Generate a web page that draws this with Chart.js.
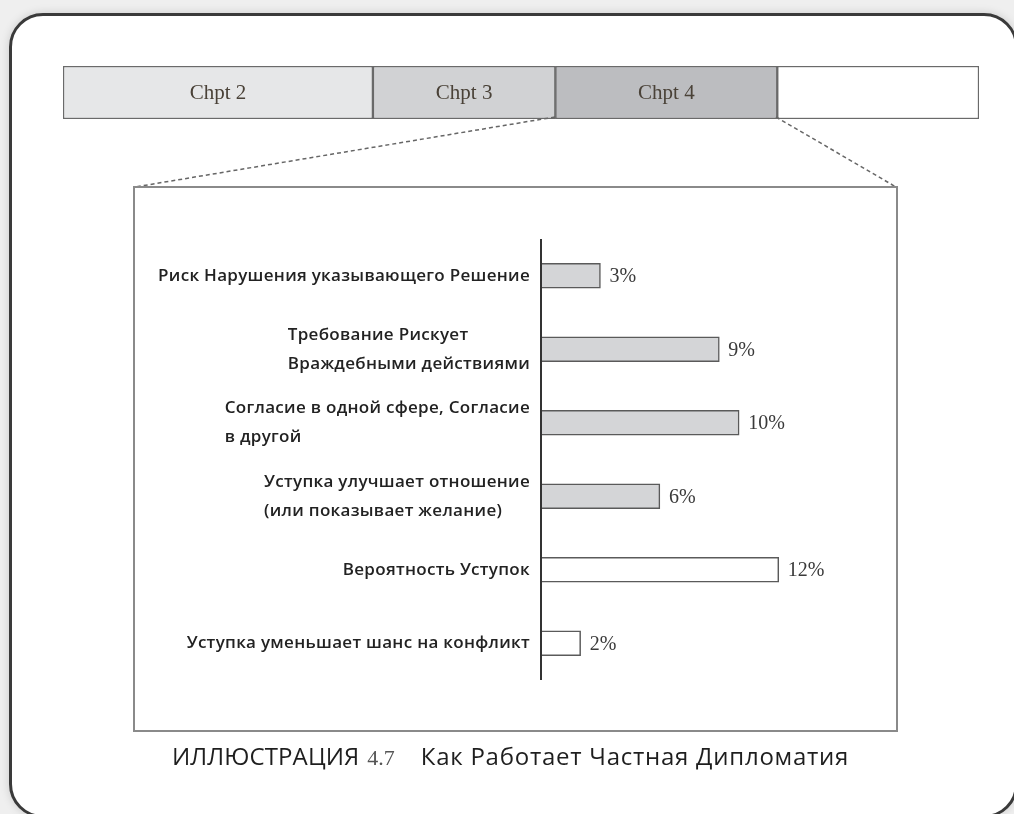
<!DOCTYPE html>
<html>
<head>
<meta charset="utf-8">
<script src="https://cdn.jsdelivr.net/npm/chart.js@4.4.0/dist/chart.umd.min.js"></script>
<style>
  html, body { margin: 0; padding: 0; background: #efefef; width: 1014px; height: 814px; overflow: hidden; }
  .frame {
    position: absolute; left: 9px; top: 13px; width: 1009px; height: 805px;
    box-sizing: border-box; border: 3px solid #3a3a3a; border-radius: 34px;
    background: #fff; box-shadow: 0 0 10px rgba(0,0,0,0.15);
  }
  #stripChart { position: absolute; left: 63px; top: 66px; }
  #links { position: absolute; left: 0; top: 0; }
  .inner {
    position: absolute; left: 133px; top: 186px; width: 765px; height: 546px;
    box-sizing: border-box; border: 2px solid #8a8a8a;
  }
  #mainChart { position: absolute; left: 135px; top: 188px; }
  .caption {
    position: absolute; left: 172px; top: 739px; white-space: nowrap;
    font-family: "Open Sans", sans-serif; font-weight: 500; font-size: 24px; color: #1e1e1e;
  }
  .caption .head { letter-spacing: 0.1px; }
  .caption .num { font-family: "Liberation Serif", serif; font-size: 22px; color: #555; margin: 0 26px 0 8px; }
  .caption .title { letter-spacing: 0.75px; }
</style>
</head>
<body>
<div class="frame"></div>
<canvas id="stripChart" width="916" height="53"></canvas>
<svg id="links" width="1014" height="814">
  <line x1="555" y1="117" x2="135" y2="187" stroke="#666" stroke-width="1.5" stroke-dasharray="4 3"/>
  <line x1="776" y1="117" x2="896" y2="187" stroke="#666" stroke-width="1.5" stroke-dasharray="4 3"/>
</svg>
<div class="inner"></div>
<canvas id="mainChart" width="760" height="541"></canvas>
<div class="caption"><span class="head">ИЛЛЮСТРАЦИЯ</span><span class="num">4.7</span><span class="title">Как Работает Частная Дипломатия</span></div>

<script>
// chapter strip (relative lengths)
const chapterNames = ["Chpt 2", "Chpt 3", "Chpt 4", ""];
const chapterShares = [33.8, 19.9, 24.2, 22.0];
const chapterColors = ["#e6e7e8", "#d1d2d4", "#bcbdc0", "#ffffff"];

// main bar chart
const categories = [
  ["Риск Нарушения указывающего Решение"],
  ["Требование Рискует", "Враждебными действиями"],
  ["Согласие в одной сфере, Согласие", "в другой"],
  ["Уступка улучшает отношение", "(или показывает желание)"],
  ["Вероятность Уступок"],
  ["Уступка уменьшает шанс на конфликт"]
];
const percents = [3, 9, 10, 6, 12, 2];
const barFills = ["#d4d5d7", "#d4d5d7", "#d4d5d7", "#d4d5d7", "#ffffff", "#ffffff"];

// STRIP

const stripLabels = {
  id: "stripLabels",
  afterDatasetsDraw(chart) {
    const ctx = chart.ctx;
    ctx.save();
    ctx.font = "21px 'Liberation Serif', serif";
    ctx.fillStyle = "#4a4238";
    ctx.textAlign = "center";
    ctx.textBaseline = "middle";
    chart.data.datasets.forEach((ds, i) => {
      const bar = chart.getDatasetMeta(i).data[0];
      if (!ds.label) return;
      ctx.fillText(ds.label, (bar.base + bar.x) / 2, bar.y + 1);
    });
    ctx.restore();
  }
};

new Chart(document.getElementById("stripChart"), {
  type: "bar",
  data: {
    labels: ["book"],
    datasets: chapterNames.map((name, i) => ({
      label: name,
      data: [chapterShares[i]],
      backgroundColor: chapterColors[i],
      borderColor: "#6a6a6a",
      borderWidth: 1.5,
      borderSkipped: false,
      barPercentage: 1,
      categoryPercentage: 1,
    })),
  },
  options: {
    indexAxis: "y",
    responsive: false,
    animation: false,
    events: [],
    layout: { padding: 0 },
    plugins: { legend: { display: false }, tooltip: { enabled: false } },
    scales: {
      x: { stacked: true, display: false, min: 0, max: chapterShares.reduce((a, b) => a + b, 0) },
      y: { stacked: true, display: false },
    },
  },
  plugins: [stripLabels],
});

// MAIN BARS

const axisAndLabels = {
  id: "axisAndLabels",
  afterDatasetsDraw(chart) {
    const ctx = chart.ctx;
    const area = chart.chartArea;
    const yScale = chart.scales.y;
    ctx.save();
    // axis line
    ctx.strokeStyle = "#333";
    ctx.lineWidth = 2;
    ctx.beginPath();
    ctx.moveTo(area.left, area.top);
    ctx.lineTo(area.left, area.bottom);
    ctx.stroke();

    // category labels: block right-aligned, lines left-aligned
    ctx.font = "600 17px 'Open Sans', sans-serif";
    ctx.letterSpacing = "0.3px";
    ctx.fillStyle = "#222";
    ctx.textAlign = "left";
    ctx.textBaseline = "middle";
    const lineH = 29;
    categories.forEach((lines, i) => {
      const y = yScale.getPixelForValue(i);
      const w = Math.max(...lines.map(l => ctx.measureText(l).width));
      const x0 = area.left - 11 - w;
      lines.forEach((l, j) => {
        ctx.fillText(l, x0, y + (j - (lines.length - 1) / 2) * lineH);
      });
    });

    // value labels
    ctx.letterSpacing = "0px";
    ctx.font = "20px 'Liberation Serif', serif";
    ctx.fillStyle = "#3a3a3a";
    chart.getDatasetMeta(0).data.forEach((bar, i) => {
      ctx.fillText(percents[i] + "%", bar.x + 9, bar.y + 1);
    });
    ctx.restore();
  }
};

new Chart(document.getElementById("mainChart"), {
  type: "bar",
  data: {
    labels: categories,
    datasets: [
      {
        data: percents,
        backgroundColor: barFills,
        borderColor: "#5a5a5a",
        borderWidth: 1.5,
        borderSkipped: "left",
        barThickness: 25,
      },
    ],
  },
  options: {
    indexAxis: "y",
    responsive: false,
    animation: false,
    events: [],
    layout: { padding: { left: 406, top: 51, bottom: 49, right: 37 } },
    plugins: { legend: { display: false }, tooltip: { enabled: false } },
    scales: {
      x: { display: false, min: 0, max: 16 },
      y: { display: false },
    },
  },
  plugins: [axisAndLabels],
});
</script>
</body>
</html>
